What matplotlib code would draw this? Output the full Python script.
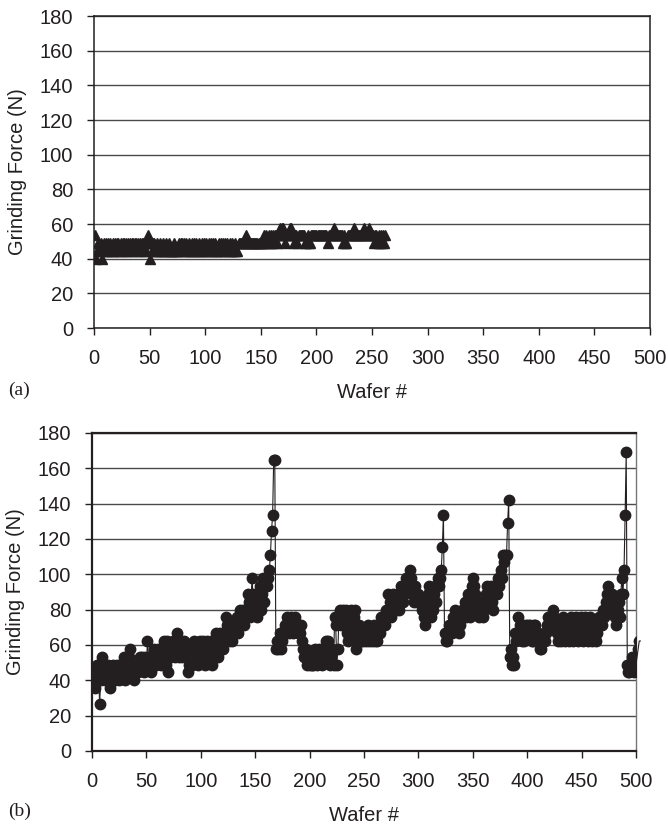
""" GRINDING FORCE PLOTS """

# imports
import numpy as np
import matplotlib.pyplot as plt


# readings taken off the chart in lbf (force levels sit on whole lbf steps)
LBF_TO_N = 4.448

# panel (a): wafers 1..262
force_a_lbf = [
    12, 9, 10, 11, 10, 11, 9, 10, 11, 10,
    11, 10, 11, 11, 10, 10, 11, 10, 11, 10,
    11, 11, 10, 11, 10, 11, 11, 10, 11, 10,
    11, 11, 10, 11, 11, 10, 11, 11, 10, 11,
    11, 10, 11, 11, 10, 11, 10, 11, 12, 9,
    11, 10, 11, 11, 10, 10, 11, 10, 11, 10,
    10, 11, 10, 10, 11, 10, 11, 10, 10, 10,
    10, 11, 10, 10, 10, 11, 10, 11, 11, 10,
    11, 10, 11, 10, 11, 10, 10, 11, 10, 11,
    10, 11, 10, 11, 10, 10, 11, 10, 11, 10,
    11, 10, 11, 10, 11, 10, 11, 10, 11, 10,
    10, 11, 10, 11, 10, 11, 10, 11, 10, 11,
    10, 11, 10, 11, 10, 10, 11, 10, 10, 11,
    11, 11, 11, 11, 11, 11, 12, 11, 11, 11,
    11, 11, 11, 11, 11, 11, 11, 11, 11, 11,
    11, 11, 12, 11, 12, 11, 12, 11, 12, 11,
    12, 11, 12, 12, 11, 12, 13, 12, 13, 13,
    12, 11, 12, 12, 12, 13, 13, 12, 12, 11,
    12, 12, 11, 12, 12, 12, 12, 12, 12, 11,
    11, 12, 11, 11, 12, 12, 12, 12, 12, 12,
    12, 12, 12, 12, 12, 12, 12, 12, 12, 11,
    12, 12, 12, 12, 12, 13, 12, 12, 12, 12,
    12, 12, 12, 11, 12, 11, 11, 12, 12, 12,
    12, 12, 12, 13, 12, 12, 12, 12, 12, 12,
    12, 12, 13, 12, 12, 12, 13, 12, 12, 12,
    12, 11, 12, 12, 11, 12, 11, 12, 11, 12,
    11, 12,
]

# panel (b): wafers 1..504 (last few run past the axis end)
force_b_lbf = [
    9, 10, 8, 9, 11, 10, 6, 9, 12, 10,
    11, 9, 10, 10, 11, 9, 8, 10, 11, 10,
    9, 10, 11, 10, 9, 11, 10, 11, 12, 9,
    10, 11, 10, 12, 13, 11, 10, 11, 9, 10,
    11, 10, 11, 12, 11, 12, 11, 10, 12, 11,
    14, 12, 11, 10, 12, 11, 13, 12, 11, 12,
    13, 12, 11, 13, 12, 14, 12, 11, 14, 10,
    12, 13, 12, 14, 13, 12, 14, 15, 13, 12,
    13, 14, 12, 13, 14, 13, 12, 10, 11, 12,
    13, 11, 12, 14, 13, 12, 11, 13, 14, 12,
    13, 14, 12, 11, 13, 14, 12, 13, 14, 11,
    12, 13, 14, 15, 13, 12, 14, 15, 14, 13,
    15, 14, 17, 16, 15, 14, 16, 15, 14, 16,
    15, 16, 17, 15, 16, 18, 16, 17, 18, 16,
    17, 18, 20, 19, 17, 18, 22, 20, 19, 18,
    20, 17, 19, 21, 18, 20, 22, 19, 21, 21,
    21, 22, 23, 25, 28, 30, 37, 37, 13, 14,
    13, 14, 15, 13, 14, 15, 16, 15, 17, 16,
    15, 16, 17, 16, 15, 16, 17, 16, 15, 16,
    15, 16, 14, 13, 12, 12, 13, 11, 12, 11,
    12, 11, 11, 12, 13, 12, 11, 12, 13, 12,
    11, 12, 13, 12, 14, 13, 14, 12, 11, 12,
    13, 11, 17, 16, 11, 13, 17, 18, 16, 17,
    18, 17, 18, 15, 14, 16, 17, 18, 16, 15,
    17, 18, 13, 14, 16, 15, 14, 15, 14, 15,
    15, 14, 15, 16, 14, 15, 14, 15, 16, 14,
    15, 14, 15, 16, 15, 17, 16, 17, 16, 18,
    17, 20, 18, 19, 17, 18, 20, 19, 18, 20,
    19, 18, 20, 21, 20, 19, 20, 21, 22, 21,
    22, 23, 22, 20, 21, 19, 21, 20, 19, 20,
    19, 19, 18, 19, 17, 16, 18, 19, 20, 21,
    19, 17, 18, 20, 21, 19, 21, 22, 21, 22,
    23, 26, 30, 15, 14, 14, 15, 16, 15, 16,
    15, 17, 16, 18, 16, 17, 15, 16, 17, 18,
    17, 18, 19, 17, 18, 20, 17, 19, 21, 22,
    21, 20, 19, 18, 19, 17, 18, 19, 17, 18,
    19, 20, 21, 20, 19, 20, 21, 19, 18, 20,
    21, 20, 22, 21, 22, 23, 22, 25, 24, 25,
    25, 29, 32, 12, 13, 11, 12, 11, 15, 14,
    15, 17, 16, 15, 14, 16, 14, 15, 16, 15,
    16, 15, 16, 14, 14, 16, 16, 15, 14, 15,
    14, 13, 13, 14, 15, 14, 15, 16, 17, 16,
    17, 16, 17, 18, 17, 16, 15, 14, 15, 16,
    14, 15, 17, 16, 14, 15, 16, 14, 15, 17,
    16, 14, 15, 16, 17, 15, 14, 16, 17, 16,
    14, 15, 17, 16, 15, 14, 16, 17, 15, 14,
    16, 15, 14, 15, 16, 17, 16, 17, 16, 18,
    17, 19, 20, 21, 20, 19, 18, 20, 19, 18,
    17, 16, 18, 19, 17, 20, 22, 20, 23, 30,
    38, 11, 10, 10, 11, 12, 11, 10, 11, 11,
    12, 13, 14, 14,
]

# axis settings
x_ticks = list(range(0, 501, 50))
y_ticks = list(range(0, 181, 20))
x_label = 'Wafer #'
y_label = 'Grinding Force (N)'
panel_tags = ['(a)', '(b)']

ink = '#231f20'
plt.rcParams['font.family'] = ['Liberation Sans', 'DejaVu Sans']


# common axes look
def style_axes(ax, spine_w):
    ax.set_xlim(0, 500)
    ax.set_ylim(0, 180)
    ax.set_xticks(x_ticks)
    ax.set_yticks(y_ticks)
    ax.tick_params(direction='out', length=5, width=1, labelsize=14.5,
                   color=ink, labelcolor=ink)
    ax.tick_params(axis='x', pad=10)
    ax.tick_params(axis='y', pad=10)
    ax.yaxis.grid(True, color='#4a4a4a', lw=1.0)
    ax.set_axisbelow(True)
    for s in ax.spines.values():
        s.set_color(ink)
        s.set_linewidth(spine_w)
    ax.set_xlabel(x_label, fontsize=14.5, color=ink, labelpad=11)
    ax.set_ylabel(y_label, fontsize=14.5, color=ink, labelpad=9)


fig = plt.figure(figsize=(6.68, 8.25), dpi=100)
ax = fig.add_axes([94 / 668, 1 - 328 / 825, 556 / 668, 312 / 825])
bx = fig.add_axes([92 / 668, 1 - 751 / 825, 544 / 668, 318 / 825])

# panel (a): triangles only
wafer_a = np.arange(1, len(force_a_lbf) + 1)
ax.plot(wafer_a, np.array(force_a_lbf) * LBF_TO_N, ls='none', marker='^',
        ms=7.5, color=ink, zorder=3)
style_axes(ax, 1.1)

# panel (b): connected circles, line runs past the end of the axis
wafer_b = np.arange(1, len(force_b_lbf) + 1)
force_b = np.array(force_b_lbf) * LBF_TO_N
bx.plot(wafer_b, force_b, ls='-', lw=0.8, color=ink, clip_on=False, zorder=3)
bx.plot(wafer_b, force_b, ls='none', marker='o', ms=7.5, color=ink, zorder=4)
style_axes(bx, 1.6)
bx.spines['right'].set_color('#777777')
bx.spines['right'].set_linewidth(1.0)

# panel tags
fig.text(8 / 668, 1 - 390 / 825, panel_tags[0], family='Liberation Serif',
         fontsize=14, color=ink, va='center')
fig.text(8 / 668, 1 - 811 / 825, panel_tags[1], family='Liberation Serif',
         fontsize=14, color=ink, va='center')

fig.savefig('out.png', dpi=100)
